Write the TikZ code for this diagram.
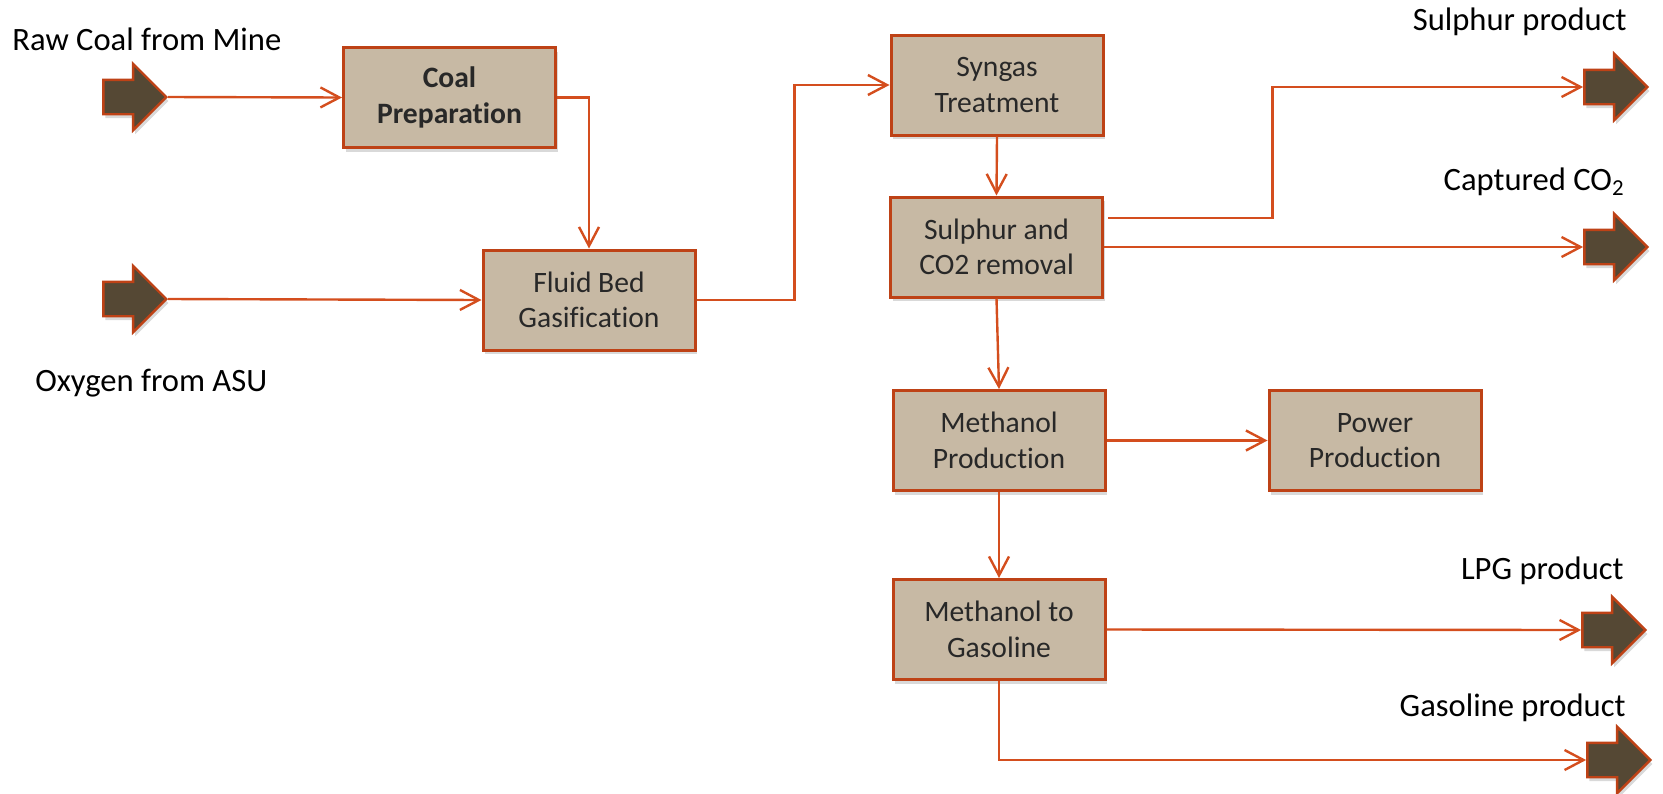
\documentclass[tikz,border=0pt]{standalone}
\usepackage{fontspec}
\setmainfont{Carlito}[Ligatures=NoCommon]
\usetikzlibrary{arrows.meta,shapes.arrows,shadows}
\definecolor{flowline}{RGB}{212,78,30}
\definecolor{boxline}{RGB}{190,66,22}
\definecolor{boxfill}{RGB}{199,185,164}
\definecolor{boxtext}{RGB}{40,40,40}
\definecolor{arrowfill}{RGB}{85,72,52}
\begin{document}
\begin{tikzpicture}[x=0.5pt,y=-0.5pt,
  unit/.style={draw=boxline,line width=1.5pt,fill=boxfill,text=boxtext,minimum width=106pt,minimum height=50pt,
    align=center,inner sep=2pt,font=\fontsize{14.8}{17.8}\selectfont,
    drop shadow={shadow xshift=1pt,shadow yshift=-2pt,opacity=.3}},
  flow/.style={draw=flowline,line width=1.2pt,-{Straight Barb[length=9.5pt,width=10pt]}},
  bigarrow/.style={single arrow,single arrow tip angle=90,single arrow head extend=8pt,single arrow head indent=0pt,
    minimum height=31.5pt,minimum width=0pt,inner xsep=0pt,inner ysep=8pt,fill=arrowfill,draw=boxline,line width=1.2pt,
    drop shadow={shadow xshift=1pt,shadow yshift=-2pt,opacity=.3}},
  lbl/.style={inner sep=0pt,font=\fontsize{16.3}{19}\selectfont}]
\useasboundingbox(0,0)rectangle(1663,793);
\node[unit](coalprep)at(449.5,97.5){\textbf{Coal}\\\textbf{Preparation}};
\node[unit](gasifier)at(589,300){Fluid Bed\\Gasification};
\node[unit](syngas)at(997,85){Syngas\\Treatment};
\node[unit](removal)at(996.5,247){Sulphur and\\CO2 removal};
\node[unit](methanol)at(999,440.5){Methanol\\Production};
\node[unit](power)at(1375,440.5){Power\\Production};
\node[unit](mtg)at(999,629.5){Methanol to\\Gasoline};
\node[bigarrow,anchor=tip](rawin)at(168,97){};
\node[bigarrow,anchor=tip](oxyin)at(168,299){};
\node[bigarrow,anchor=tip](sulout)at(1649,87){};
\node[bigarrow,anchor=tip](co2out)at(1649,247){};
\node[bigarrow,anchor=tip](lpgout)at(1647,630){};
\node[bigarrow,anchor=tip](gasout)at(1652,760){};
\node[lbl,anchor=base west](rawlbl)at(12,50){Raw Coal from Mine};
\node[lbl,anchor=base west](oxylbl)at(35,391){Oxygen from ASU};
\node[lbl,anchor=base east](sullbl)at(1627,30){Sulphur product};
\node[lbl,anchor=base east](co2lbl)at(1625,190){Captured CO\textsubscript{2}};
\node[lbl,anchor=base east](lpglbl)at(1624,579){LPG product};
\node[lbl,anchor=base east](gaslbl)at(1626,716){Gasoline product};
\draw[flow](rawin.tip)--(coalprep.west);
\draw[flow](oxyin.tip)--(gasifier.west);
\draw[flow](coalprep.east)-|(gasifier.north);
\draw[flow](gasifier.east)--++(98,0)|-(syngas.west);
\draw[flow](syngas.south)--(removal.north);
\draw[flow]([shift={(4,-29)}]removal.east)--++(164.5,0)|-(sulout.tail);
\draw[flow](removal.east)--(co2out.tail);
\draw[flow](removal.south)--(methanol.north);
\draw[flow](methanol.east)--(power.west);
\draw[flow](methanol.south)--(mtg.north);
\draw[flow](mtg.east)--(lpgout.tail);
\draw[flow](mtg.south)|-(gasout.tail);
\end{tikzpicture}
\end{document}
